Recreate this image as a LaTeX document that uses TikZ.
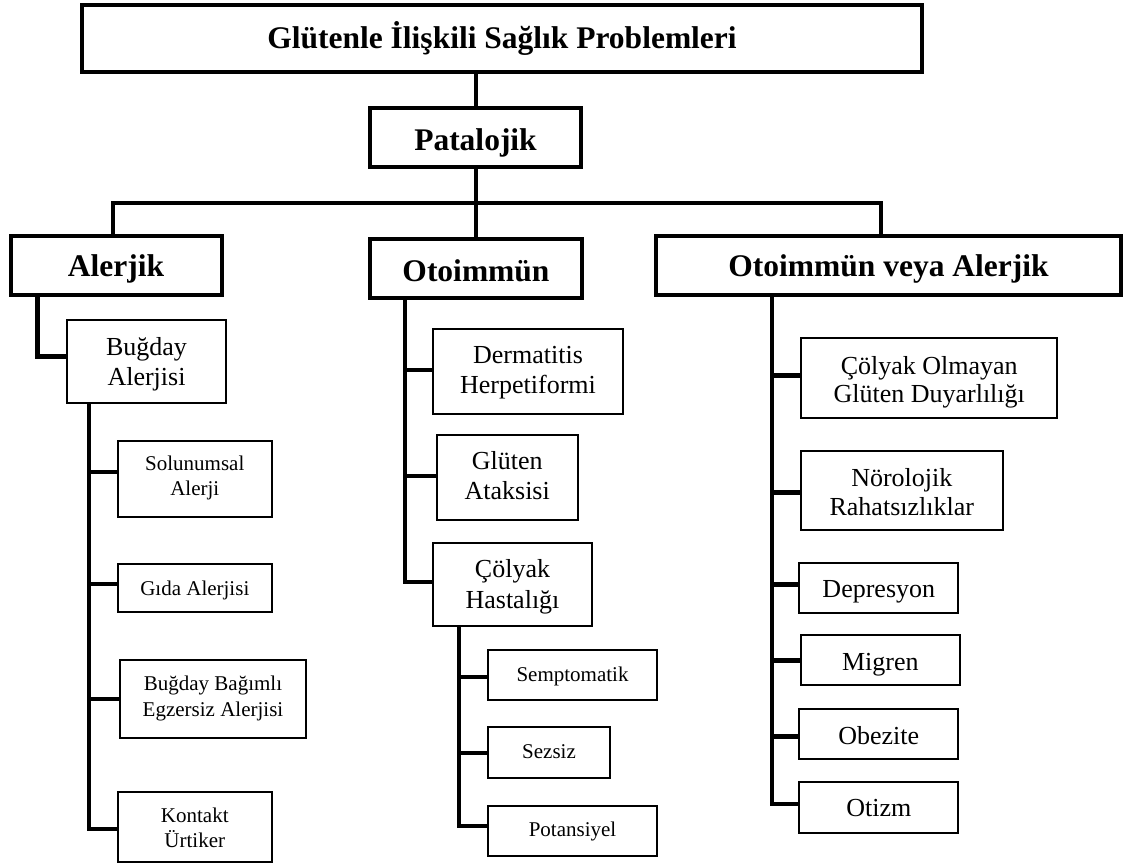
\documentclass[tikz,border=0pt]{standalone}
\usepackage{fontspec}
\setmainfont{Liberation Serif}
\newcommand{\twol}[2]{\begin{tabular}[t]{@{}c@{}}#1\\#2\end{tabular}}
\begin{document}
\begin{tikzpicture}[x=1pt,y=-1pt,
  bigbox/.style={draw, line width=4pt, inner sep=0pt, font={\fontsize{31.5}{36}\selectfont\bfseries}},
  midbox/.style={draw, line width=2pt, inner sep=0pt, font={\fontsize{26}{30}\selectfont}},
  smallbox/.style={draw, line width=2pt, inner sep=0pt, font={\fontsize{21}{25}\selectfont}},
  sz/.style 2 args={minimum width=#1, minimum height=#2},
  up/.style={text height=#1, text depth=0pt},
  dn/.style={text height=0pt, text depth=#1},
  lead/.style={font={\fontsize{#1}{#1}\selectfont}},
  mainlink/.style={line width=4pt},
  sublink/.style={line width=4pt},
  thinlink/.style={line width=3.5pt},
  ovlink/.style={line width=4pt}
]
\useasboundingbox (0,0) rectangle (1130,863);
\fill[white] (0,0) rectangle (1130,863);

% level 0-1
\node[bigbox, sz={840pt}{66.5pt}, up=19.6pt] (top) at (502,38.5) {Glütenle İlişkili Sağlık Problemleri};
\node[bigbox, sz={211pt}{59pt}, up=25pt] (pat) at (475.5,137.5) {Patalojik};
% level 2
\node[bigbox, sz={211pt}{59pt}, up=22.4pt] (alerjik) at (116,265.5) {Alerjik};
\node[bigbox, sz={212pt}{59pt}, up=25.8pt] (otoimmun) at (476,268.8) {Otoimmün};
\node[bigbox, sz={465pt}{59pt}, up=22.4pt] (ova) at (888.5,265.5) {Otoimmün veya Alerjik};

% Alerjik branch
\node[midbox, sz={159pt}{83.7pt}, dn=11.6pt] (bugday) at (146.5,361.5) {\twol{Buğday}{Alerjisi}};
\node[smallbox, sz={154.3pt}{76pt}, dn=17.2pt] (solunum) at (194.8,479.2) {\twol{Solunumsal}{Alerji}};
\node[smallbox, sz={154.3pt}{47.8pt}, up=14.8pt] (gida) at (194.8,587.8) {Gıda Alerjisi};
\node[smallbox, sz={186pt}{78pt}, dn=16.8pt, font={\fontsize{21}{26}\selectfont}] (bbea) at (213,699.1) {\twol{Buğday Bağımlı}{Egzersiz Alerjisi}};
\node[smallbox, sz={154.3pt}{70pt}, dn=9pt] (kontakt) at (194.8,826.9) {\twol{Kontakt}{Ürtiker}};

% Otoimmun branch
\node[midbox, sz={189.4pt}{84.4pt}, dn=15.4pt] (derm) at (528,371.6) {\twol{Dermatitis}{Herpetiformi}};
\node[midbox, sz={141pt}{85pt}, dn=15.4pt] (ataksi) at (507.2,477.2) {\twol{Glüten}{Ataksisi}};
\node[midbox, sz={158.4pt}{82.3pt}, dn=14.8pt, font={\fontsize{26}{31}\selectfont}] (colyak) at (512.5,584.6) {\twol{Çölyak}{Hastalığı}};
\node[smallbox, sz={169.6pt}{50.3pt}, up=12pt] (sempt) at (572.5,675.3) {Semptomatik};
\node[smallbox, sz={122pt}{50.3pt}, up=12.8pt] (sezsiz) at (549,752.5) {Sezsiz};
\node[smallbox, sz={169.6pt}{49.5pt}, up=11.6pt] (potan) at (572.5,831) {Potansiyel};

% Otoimmun veya Alerjik branch
\node[midbox, sz={256.3pt}{80pt}, dn=7.4pt, font={\fontsize{26}{28}\selectfont}] (cogd) at (929.2,378) {\twol{Çölyak Olmayan}{Glüten Duyarlılığı}};
\node[midbox, sz={201.7pt}{79pt}, dn=8.6pt, font={\fontsize{26}{29}\selectfont}] (noro) at (901.8,490.8) {\twol{Nörolojik}{Rahatsızlıklar}};
\node[midbox, sz={159pt}{50pt}, up=20.2pt] (depr) at (878.8,587.8) {Depresyon};
\node[midbox, sz={159.3pt}{49.6pt}, up=21pt] (migren) at (880.3,659.9) {Migren};
\node[midbox, sz={159pt}{50pt}, up=20.2pt] (obez) at (878.8,734.4) {Obezite};
\node[midbox, sz={159pt}{50.8pt}, up=19.4pt] (otizm) at (878.8,807.1) {Otizm};

% junction coordinates
\coordinate (barL) at (112.5,203);
\coordinate (barR) at (881,203);
\coordinate (aj) at (37.5,356.4);
\coordinate (bv) at (89,0);
\coordinate (b1) at (89,471.6);
\coordinate (b2) at (89,584.4);
\coordinate (b3) at (89,698.6);
\coordinate (b4) at (89,828.5);
\coordinate (ov) at (405,0);
\coordinate (o1) at (405,370);
\coordinate (o2) at (405,476);
\coordinate (o3) at (405,582);
\coordinate (cv) at (459,0);
\coordinate (c1) at (459,677);
\coordinate (c2) at (459,753.1);
\coordinate (c3) at (459,826);
\coordinate (rv) at (772,0);
\coordinate (r1) at (772,375.9);
\coordinate (r2) at (772,492.4);
\coordinate (r3) at (772,584.2);
\coordinate (r4) at (772,660.5);
\coordinate (r5) at (772,736.7);
\coordinate (r6) at (772,804.3);

% main connectors
\draw[mainlink] (pat.north |- top.south) -- (pat.north);
\draw[mainlink] (pat.south) -- (pat.south |- barL);
\draw[mainlink] (barL |- alerjik.north) -- (barL) -- (barR) -- (barR |- ova.north);
\draw[mainlink] (pat.south |- barL) -- (pat.south |- otoimmun.north);

% Alerjik -> Bugday
\draw[line width=4.5pt] (aj |- alerjik.south) |- (aj -| bugday.west);
% Bugday children
\draw[sublink] (bv |- bugday.south) |- (b4 -| kontakt.west);
\draw[sublink] (b1) -- (b1 -| solunum.west);
\draw[sublink] (b2) -- (b2 -| gida.west);
\draw[sublink] (b3) -- (b3 -| bbea.west);

% Otoimmun children
\draw[line width=4.5pt] (ov |- otoimmun.south) |- (o3 -| colyak.west);
\draw[line width=4.5pt] (o1) -- (o1 -| derm.west);
\draw[line width=4.5pt] (o2) -- (o2 -| ataksi.west);

% Colyak children
\draw[thinlink] (cv |- colyak.south) |- (c3 -| potan.west);
\draw[thinlink] (c1) -- (c1 -| sempt.west);
\draw[thinlink] (c2) -- (c2 -| sezsiz.west);

% OvA children
\draw[ovlink] (rv |- ova.south) |- (r6 -| otizm.west);
\draw[line width=5pt] (r1) -- (r1 -| cogd.west);
\draw[line width=5pt] (r2) -- (r2 -| noro.west);
\draw[line width=5pt] (r3) -- (r3 -| depr.west);
\draw[line width=5pt] (r4) -- (r4 -| migren.west);
\draw[line width=5pt] (r5) -- (r5 -| obez.west);
\end{tikzpicture}
\end{document}
